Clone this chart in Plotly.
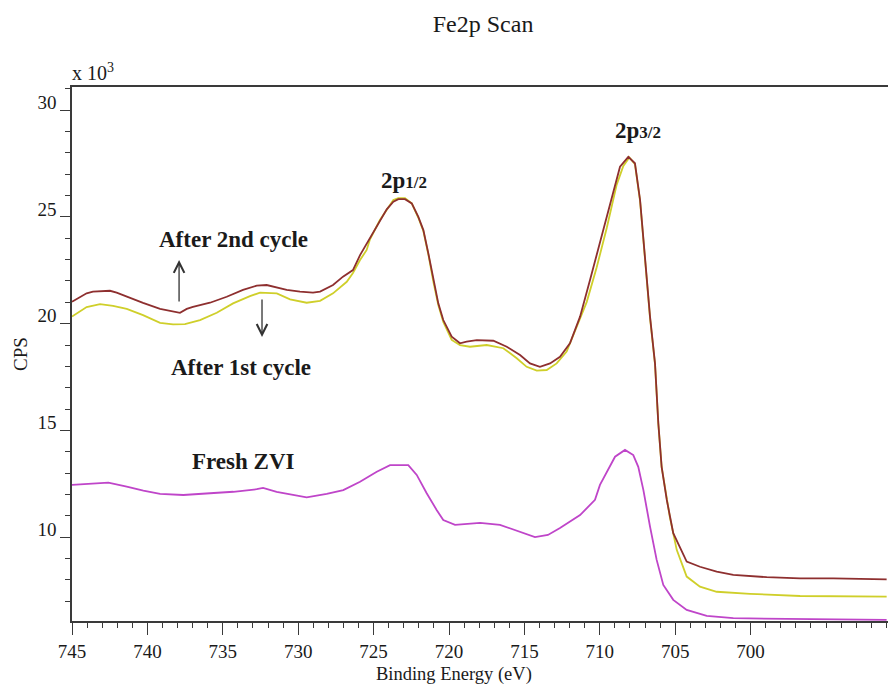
import plotly.graph_objects as go

# Fe 2p XPS spectra: binding energy (eV) and intensity (CPS, x10^3)
be_2nd = [745.0, 744.03, 743.61, 742.48, 742.04, 741.37, 740.29, 739.16, 738.30, 737.84,
          737.39, 736.98, 735.85, 734.74, 733.66, 732.75, 732.09, 731.42, 730.76, 729.88,
          729.02, 728.55, 727.69, 727.03, 726.37, 725.90, 725.24, 724.58, 724.13, 723.69,
          723.36, 722.92, 722.47, 722.04, 721.70, 721.37, 721.04, 720.71, 720.38, 719.82,
          719.27, 718.83, 718.16, 717.06, 716.17, 715.29, 714.63, 713.97, 713.30, 712.64,
          711.98, 711.31, 710.65, 709.77, 709.10, 708.66, 708.11, 707.67, 707.33, 706.89,
          706.67, 706.34, 706.12, 705.90, 705.56, 705.13, 704.24, 703.36, 702.25, 701.15,
          698.93, 696.72, 694.52, 690.98]
cps_2nd = [21.03, 21.42, 21.50, 21.54, 21.45, 21.26, 20.97, 20.69, 20.55, 20.51,
           20.69, 20.79, 20.98, 21.26, 21.58, 21.78, 21.81, 21.70, 21.58, 21.50,
           21.45, 21.50, 21.81, 22.20, 22.51, 23.21, 24.00, 24.85, 25.35, 25.71,
           25.83, 25.83, 25.63, 25.01, 24.38, 23.29, 22.04, 20.95, 20.17, 19.39,
           19.08, 19.16, 19.23, 19.20, 18.92, 18.53, 18.14, 17.98, 18.14, 18.45,
           19.08, 20.33, 22.04, 24.38, 26.10, 27.35, 27.81, 27.51, 25.79, 22.20,
           20.33, 18.14, 15.34, 13.30, 11.75, 10.19, 8.86, 8.62, 8.39, 8.24,
           8.13, 8.08, 8.08, 8.03]

be_1st = [745.0, 744.03, 743.14, 742.28, 741.37, 740.29, 739.16, 738.30, 737.51, 736.51,
          735.40, 734.32, 733.20, 732.53, 731.42, 730.54, 729.44, 728.55, 727.69, 726.78,
          726.37, 725.90, 725.46, 725.24, 724.58, 724.13, 723.69, 723.36, 722.92, 722.47,
          722.04, 721.70, 721.37, 721.04, 720.71, 720.38, 719.82, 719.27, 718.61, 717.50,
          716.40, 715.51, 714.85, 714.18, 713.52, 712.86, 712.20, 711.53, 710.87, 710.21,
          709.54, 708.88, 708.44, 708.04, 707.67, 707.33, 706.89, 706.67, 706.34, 706.12,
          705.90, 705.36, 704.90, 704.24, 703.36, 702.25, 700.04, 696.72, 690.98]
cps_1st = [20.33, 20.78, 20.91, 20.83, 20.69, 20.40, 20.04, 19.97, 19.98, 20.17,
           20.51, 20.95, 21.29, 21.45, 21.42, 21.14, 20.98, 21.07, 21.42, 21.96,
           22.37, 22.98, 23.45, 23.95, 24.85, 25.35, 25.79, 25.88, 25.88, 25.63,
           24.97, 24.34, 23.24, 21.97, 20.87, 20.08, 19.24, 19.00, 18.92, 19.00,
           18.85, 18.38, 17.98, 17.80, 17.83, 18.14, 18.69, 19.86, 21.01, 22.63,
           24.48, 26.51, 27.38, 27.78, 27.47, 25.74, 22.14, 20.26, 18.11, 15.30,
           13.29, 10.96, 9.41, 8.16, 7.69, 7.45, 7.35, 7.25, 7.22]

be_fresh = [745.0, 743.59, 742.59, 741.37, 740.27, 739.16, 737.62, 735.85, 734.30, 732.75,
            732.33, 731.43, 730.32, 729.44, 728.11, 727.01, 725.90, 724.79, 723.91, 722.70,
            722.14, 721.48, 720.82, 720.38, 719.60, 717.94, 716.62, 715.29, 714.30, 713.44,
            712.64, 711.31, 710.32, 709.99, 709.32, 708.99, 708.33, 707.78, 707.45, 707.11,
            706.67, 706.23, 705.79, 705.13, 704.24, 702.91, 701.15, 696.72, 690.98]
cps_fresh = [12.45, 12.53, 12.56, 12.37, 12.18, 12.03, 11.98, 12.06, 12.13, 12.25,
             12.31, 12.13, 11.98, 11.87, 12.03, 12.21, 12.60, 13.07, 13.38, 13.38,
             12.92, 12.06, 11.28, 10.81, 10.58, 10.67, 10.58, 10.25, 10.01, 10.11,
             10.43, 11.04, 11.75, 12.45, 13.30, 13.77, 14.09, 13.85, 13.30, 12.21,
             10.50, 8.94, 7.77, 7.07, 6.60, 6.32, 6.21, 6.16, 6.13]

x_ticks = [745, 740, 735, 730, 725, 720, 715, 710, 705, 700]
y_ticks = [10, 15, 20, 25, 30]

SERIF = "Liberation Serif"
INK = "#1a1a1a"
AXIS = "#3a3a3a"

fig = go.Figure()
fig.add_trace(go.Scatter(x=be_fresh, y=cps_fresh, mode="lines",
                         line=dict(color="#bf45c9", width=1.8), name="Fresh ZVI"))
fig.add_trace(go.Scatter(x=be_1st, y=cps_1st, mode="lines",
                         line=dict(color="#cfcf2a", width=1.8), name="After 1st cycle"))
fig.add_trace(go.Scatter(x=be_2nd, y=cps_2nd, mode="lines",
                         line=dict(color="#8e2f2f", width=1.8), name="After 2nd cycle"))

bold = dict(family=SERIF, size=23, color=INK)
labels = [
    (734.26, 23.92, "<b>After 2nd cycle</b>"),
    (733.79, 17.97, "<b>After 1st cycle</b>"),
    (733.66, 13.57, "<b>Fresh ZVI</b>"),
    (722.98, 26.72, "<b>2p<span style='font-size:17px'>1/2</span></b>"),
    (707.47, 29.06, "<b>2p<span style='font-size:17px'>3/2</span></b>"),
]
annotations = [dict(x=x, y=y, xref="x", yref="y", text=t, showarrow=False,
                    font=bold, xanchor="center", yanchor="middle") for x, y, t in labels]

# shift arrows between the two cycle labels
for x0, y_tail, y_head in [(737.90, 20.97, 22.98), (732.40, 21.20, 19.38)]:
    annotations.append(dict(x=x0, y=y_head, ax=x0, ay=y_tail, xref="x", yref="y",
                            axref="x", ayref="y", text="", showarrow=True,
                            arrowhead=5, arrowsize=1.6, arrowwidth=1.3,
                            arrowcolor="#333333"))

annotations += [
    dict(x=0.468, y=-0.0995, xref="paper", yref="paper", text="Binding Energy (eV)",
         showarrow=False, font=dict(family=SERIF, size=18.5, color=INK),
         xanchor="center", yanchor="middle"),
    dict(x=-0.0637, y=0.5, xref="paper", yref="paper", text="CPS", textangle=-90,
         showarrow=False, font=dict(family=SERIF, size=19, color=INK),
         xanchor="center", yanchor="middle"),
    dict(x=-0.003, y=1.0, xref="paper", yref="paper", text="x 10<sup>3</sup>",
         showarrow=False, font=dict(family=SERIF, size=20, color=INK),
         xanchor="left", yanchor="bottom", yshift=1),
]

fig.update_layout(
    width=888, height=688,
    margin=dict(l=72, r=0, t=87, b=67),
    paper_bgcolor="white", plot_bgcolor="white",
    showlegend=False,
    title=dict(text="Fe2p Scan", x=0.544, xref="container", y=0.966, yref="container",
               xanchor="center", yanchor="middle",
               font=dict(family=SERIF, size=24, color=INK)),
    annotations=annotations,
)

fig.update_xaxes(
    range=[745, 690.89], tickmode="array", tickvals=x_ticks,
    ticks="outside", ticklen=12, tickwidth=1.3, tickcolor=AXIS,
    minor=dict(dtick=1, tick0=700, ticks="outside", ticklen=5, tickwidth=1.2, tickcolor=AXIS),
    showline=True, linecolor=AXIS, linewidth=1.6, mirror=True,
    showgrid=False, zeroline=False,
    tickfont=dict(family=SERIF, size=19, color=INK),
)
fig.update_yaxes(
    range=[6.08, 31.08], tickmode="array", tickvals=y_ticks,
    ticks="outside", ticklen=10, tickwidth=1.3, tickcolor=AXIS,
    minor=dict(dtick=1, tick0=0, ticks="outside", ticklen=5, tickwidth=1.2, tickcolor=AXIS),
    showline=True, linecolor=AXIS, linewidth=1.6, mirror=False,
    showgrid=False, zeroline=False, ticklabelshift=-8,
    tickfont=dict(family=SERIF, size=19, color=INK),
)

fig.write_html("out.html")
